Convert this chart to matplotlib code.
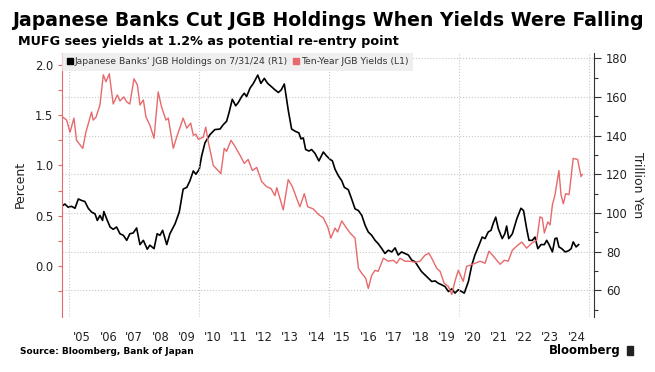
import matplotlib.pyplot as plt
from matplotlib.lines import Line2D
from matplotlib.patches import Rectangle

# ten-year JGB yield, percent (left axis)
yield_t = [2004.75, 2004.90, 2005.03, 2005.18, 2005.28, 2005.52, 2005.64, 2005.86, 2005.92, 2006.03,
           2006.18, 2006.31, 2006.41, 2006.54, 2006.69, 2006.85, 2006.95, 2007.10, 2007.21, 2007.33,
           2007.49, 2007.62, 2007.72, 2007.85, 2007.95, 2008.10, 2008.26, 2008.42, 2008.55, 2008.72,
           2008.81, 2009.00, 2009.13, 2009.38, 2009.52, 2009.67, 2009.77, 2009.87, 2009.96, 2010.15,
           2010.25, 2010.35, 2010.54, 2010.83, 2010.96, 2011.05, 2011.22, 2011.37, 2011.57, 2011.73,
           2011.88, 2012.04, 2012.21, 2012.40, 2012.59, 2012.76, 2012.91, 2012.98, 2013.23, 2013.42,
           2013.58, 2013.75, 2013.87, 2014.04, 2014.17, 2014.38, 2014.60, 2014.77, 2014.94, 2015.06,
           2015.22, 2015.32, 2015.48, 2015.63, 2015.80, 2015.99, 2016.12, 2016.25, 2016.40, 2016.50,
           2016.63, 2016.76, 2016.88, 2017.08, 2017.27, 2017.46, 2017.59, 2017.72, 2017.91, 2018.10,
           2018.30, 2018.49, 2018.68, 2018.83, 2018.94, 2019.13, 2019.26, 2019.42, 2019.58, 2019.71,
           2019.83, 2019.96, 2020.15, 2020.28, 2020.41, 2020.60, 2020.80, 2020.99, 2021.14, 2021.31,
           2021.57, 2021.73, 2021.88, 2022.04, 2022.25, 2022.40, 2022.59, 2022.79, 2022.98, 2023.10,
           2023.19, 2023.27, 2023.40, 2023.49, 2023.58, 2023.68, 2023.83, 2023.91, 2024.00, 2024.09,
           2024.22, 2024.38, 2024.55, 2024.68, 2024.73]
yields = [1.48, 1.45, 1.33, 1.47, 1.25, 1.17, 1.33, 1.53, 1.45, 1.48,
          1.60, 1.90, 1.83, 1.91, 1.61, 1.70, 1.64, 1.68, 1.63, 1.61,
          1.86, 1.80, 1.60, 1.65, 1.48, 1.40, 1.27, 1.73, 1.58, 1.45,
          1.47, 1.17, 1.28, 1.47, 1.37, 1.42, 1.30, 1.31, 1.26, 1.28,
          1.38, 1.23, 1.00, 0.92, 1.17, 1.14, 1.25, 1.19, 1.10, 1.02,
          1.06, 0.95, 0.98, 0.84, 0.79, 0.77, 0.70, 0.78, 0.56, 0.86,
          0.79, 0.67, 0.59, 0.72, 0.59, 0.57, 0.51, 0.48, 0.39, 0.28,
          0.38, 0.34, 0.45, 0.39, 0.33, 0.28, -0.02, -0.07, -0.12, -0.22,
          -0.09, -0.04, -0.05, 0.08, 0.05, 0.06, 0.03, 0.08, 0.05, 0.05,
          0.04, 0.05, 0.11, 0.13, 0.08, -0.02, -0.05, -0.17, -0.20, -0.28,
          -0.15, -0.04, -0.15, 0.00, 0.01, 0.03, 0.05, 0.03, 0.15, 0.10,
          0.02, 0.06, 0.05, 0.16, 0.21, 0.24, 0.18, 0.23, 0.26, 0.49,
          0.48, 0.33, 0.44, 0.41, 0.61, 0.71, 0.95, 0.71, 0.62, 0.72,
          0.71, 1.07, 1.06, 0.89, 0.91]

# banks' JGB holdings, trillion yen (right axis)
hold_t = [2004.75, 2004.83, 2004.96, 2005.09, 2005.22, 2005.35, 2005.48, 2005.60, 2005.73, 2005.86,
          2005.99, 2006.08, 2006.18, 2006.28, 2006.33, 2006.44, 2006.57, 2006.69, 2006.82, 2006.95,
          2007.08, 2007.21, 2007.33, 2007.46, 2007.59, 2007.72, 2007.85, 2008.00, 2008.10, 2008.26,
          2008.38, 2008.49, 2008.59, 2008.75, 2008.87, 2009.07, 2009.23, 2009.38, 2009.52, 2009.64,
          2009.77, 2009.87, 2010.00, 2010.09, 2010.22, 2010.41, 2010.60, 2010.80, 2010.92, 2011.05,
          2011.14, 2011.27, 2011.40, 2011.50, 2011.63, 2011.73, 2011.82, 2011.95, 2012.08, 2012.25,
          2012.37, 2012.50, 2012.63, 2012.76, 2012.89, 2013.04, 2013.15, 2013.27, 2013.42, 2013.55,
          2013.68, 2013.83, 2013.91, 2014.00, 2014.09, 2014.22, 2014.32, 2014.45, 2014.60, 2014.77,
          2014.90, 2015.03, 2015.12, 2015.22, 2015.35, 2015.48, 2015.58, 2015.73, 2015.86, 2015.99,
          2016.12, 2016.25, 2016.38, 2016.50, 2016.63, 2016.76, 2016.88, 2017.02, 2017.14, 2017.27,
          2017.40, 2017.53, 2017.65, 2017.78, 2017.91, 2018.04, 2018.17, 2018.30, 2018.42, 2018.55,
          2018.68, 2018.81, 2018.94, 2019.07, 2019.19, 2019.32, 2019.45, 2019.58, 2019.71, 2019.83,
          2019.96, 2020.09, 2020.19, 2020.35, 2020.48, 2020.60, 2020.73, 2020.88, 2020.99, 2021.11,
          2021.22, 2021.30, 2021.40, 2021.50, 2021.65, 2021.75, 2021.82, 2021.90, 2022.04, 2022.21,
          2022.37, 2022.47, 2022.59, 2022.68, 2022.81, 2022.91, 2023.02, 2023.14, 2023.27, 2023.36,
          2023.45, 2023.58, 2023.68, 2023.75, 2023.83, 2023.94, 2024.07, 2024.20, 2024.30, 2024.38,
          2024.49, 2024.59]
holdings = [103.8, 104.6, 102.9, 103.4, 102.4, 107.2, 106.4, 105.9, 102.4, 100.4,
            99.5, 96.1, 98.7, 96.1, 100.7, 96.9, 92.7, 91.5, 92.7, 89.2,
            88.4, 85.8, 89.2, 89.6, 92.2, 83.6, 85.8, 81.2, 83.3, 81.5,
            89.2, 88.4, 91.0, 83.6, 89.2, 94.4, 100.4, 112.3, 113.2, 116.6,
            121.7, 120.0, 122.6, 129.4, 136.3, 140.5, 143.1, 143.4, 145.6, 147.4,
            151.6, 158.8, 155.4, 157.1, 160.2, 161.9, 160.2, 164.5, 167.0, 171.3,
            167.0, 169.6, 167.0, 165.5, 163.9, 162.3, 163.6, 166.7, 153.3, 143.4,
            142.3, 141.4, 138.3, 138.8, 132.8, 132.0, 132.8, 130.8, 126.9, 131.5,
            129.4, 127.7, 126.9, 122.6, 119.2, 116.6, 113.2, 112.0, 107.2, 102.1,
            101.2, 98.7, 93.5, 90.1, 88.4, 85.8, 84.1, 81.5, 79.0, 80.7,
            79.8, 81.9, 78.2, 79.8, 79.0, 78.2, 75.6, 74.7, 72.2, 69.6,
            67.9, 66.2, 64.5, 64.8, 63.6, 62.8, 61.9, 59.3, 60.7, 58.5,
            60.2, 59.3, 58.5, 64.5, 73.0, 78.2, 82.4, 87.5, 86.7, 90.1,
            91.0, 94.4, 97.8, 91.8, 86.7, 89.2, 93.2, 86.7, 89.2, 96.9,
            102.4, 101.2, 91.8, 85.8, 85.8, 87.5, 81.5, 83.6, 83.6, 85.8,
            83.6, 79.8, 86.7, 87.0, 82.4, 81.5, 79.8, 80.4, 81.5, 85.0,
            82.4, 83.6]

years = list(range(2005, 2025))
year_labels = ["'" + str(y)[2:] for y in years]

red = '#e8696b'
grid_c = '#c8c8c8'

fig = plt.figure(figsize=(6.55, 3.72), dpi=100)
ax = fig.add_axes([0.0954, 0.1487, 0.8115, 0.7097])
ax2 = ax.twinx()
ax.set_zorder(ax2.get_zorder() + 1)
ax.patch.set_visible(False)

ax2.plot(hold_t, holdings, color='black', lw=1.2)
ax.plot(yield_t, yields, color=red, lw=1.0)

ax.set_xlim(2004.74, 2025.18)
ax.set_ylim(-0.5, 2.119)
ax2.set_ylim(46.3, 182.9)

# left axis
ax.set_yticks([0.0, 0.5, 1.0, 1.5, 2.0])
ax.set_yticks([-0.25, 0.25, 0.75, 1.25, 1.75], minor=True)
ax.tick_params(axis='y', colors=red, labelcolor='#222222', length=3, width=0.8, labelsize=8.3)
ax.tick_params(axis='y', which='minor', colors=red, length=3, width=0.8)
for s in ['top', 'bottom', 'right']:
    ax.spines[s].set_visible(False)
ax.spines['left'].set_color(red)
ax.set_ylabel('Percent', fontsize=9, color='#222222', labelpad=6)

# x axis: gridlines every five years, labels mid-year
ax.set_xticks([2005, 2010, 2015, 2020, 2025])
ax.set_xticklabels([])
ax.set_xticks([y + 0.5 for y in years], minor=True)
ax.set_xticklabels(year_labels, minor=True)
ax.tick_params(axis='x', which='both', length=0, labelsize=8.3, labelcolor='#222222', pad=10)
ax.grid(axis='x', color=grid_c, ls=':', lw=0.8)

# right axis
ax2.set_yticks(range(60, 181, 20))
ax2.set_yticks(range(50, 180, 20), minor=True)
ax2.tick_params(axis='y', colors='#333333', labelcolor='#222222', length=5, width=0.8, labelsize=8.3)
ax2.tick_params(axis='y', which='minor', colors='#333333', length=3, width=0.8)
for s in ['top', 'bottom', 'left']:
    ax2.spines[s].set_visible(False)
ax2.spines['right'].set_color('#333333')
ax2.grid(axis='y', color=grid_c, ls=':', lw=0.8)
ax2.set_ylabel('Trillion Yen', fontsize=9, color='#222222', rotation=270, labelpad=12)

handles = [Line2D([], [], ls='none', marker='s', ms=5, color='black'),
           Line2D([], [], ls='none', marker='s', ms=5, color=red)]
labels = ["Japanese Banks' JGB Holdings on 7/31/24 (R1)", "Ten-Year JGB Yields (L1)"]
leg = ax.legend(handles, labels, loc='upper left', ncol=2, fontsize=6.7, frameon=True,
                borderaxespad=0, handlelength=0.6, handletextpad=0.2, columnspacing=0.6,
                borderpad=0.5, fancybox=False)
leg.get_frame().set_facecolor('#ececec')
leg.get_frame().set_edgecolor('none')
for t in leg.get_texts():
    t.set_color('#333333')

fig.text(0.018, 0.945, 'Japanese Banks Cut JGB Holdings When Yields Were Falling',
         fontsize=13.6, fontweight='bold', va='center', ha='left')
fig.text(0.028, 0.888, 'MUFG sees yields at 1.2% as potential re-entry point',
         fontsize=9.2, fontweight='bold', va='center', ha='left')
fig.text(0.031, 0.056, 'Source: Bloomberg, Bank of Japan', fontsize=6.5,
         fontweight='bold', va='center', ha='left')
fig.text(0.947, 0.058, 'Bloomberg', fontsize=8.5, fontweight='bold', va='center', ha='right')
fig.patches.append(Rectangle((0.957, 0.045), 0.010, 0.026, transform=fig.transFigure,
                             color='#222222'))

fig.savefig('out.png', dpi=100)
